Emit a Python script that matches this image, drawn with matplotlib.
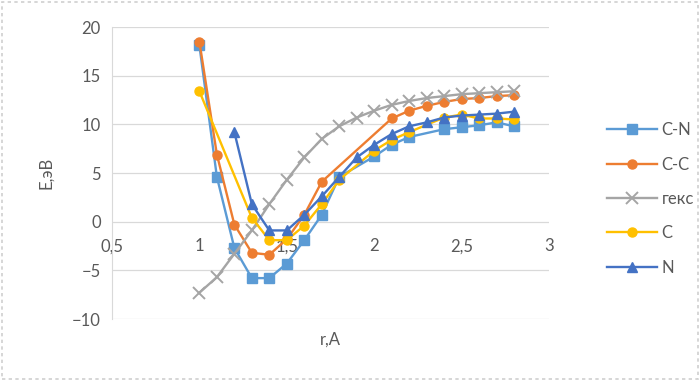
import matplotlib.pyplot as plt
import matplotlib.patches as patches
from matplotlib.ticker import FuncFormatter

# series data
x_cn = [1.0, 1.1, 1.2, 1.3, 1.4, 1.5, 1.6, 1.7, 1.8, 2.0, 2.1, 2.2, 2.4, 2.5, 2.6, 2.7, 2.8]
y_cn = [18.1, 4.6, -2.7, -5.8, -5.8, -4.3, -1.9, 0.7, 4.6, 6.7, 7.9, 8.7, 9.5, 9.7, 9.9, 10.2, 9.8]

x_cc = [1.0, 1.1, 1.2, 1.3, 1.4, 1.5, 1.6, 1.7, 2.1, 2.2, 2.3, 2.4, 2.5, 2.6, 2.7, 2.8]
y_cc = [18.5, 6.9, -0.3, -3.2, -3.4, -1.8, 0.7, 4.1, 10.6, 11.4, 11.9, 12.3, 12.6, 12.7, 12.9, 13.0]

x_hex = [1.0, 1.1, 1.2, 1.3, 1.4, 1.5, 1.6, 1.7, 1.8, 1.9, 2.0, 2.1, 2.2, 2.3, 2.4, 2.5, 2.6, 2.7, 2.8]
y_hex = [-7.3, -5.7, -3.3, -0.9, 1.8, 4.3, 6.6, 8.5, 9.8, 10.7, 11.4, 12.0, 12.4, 12.7, 12.9, 13.1, 13.2, 13.3, 13.4]

x_c = [1.0, 1.3, 1.4, 1.5, 1.6, 1.7, 1.8, 2.0, 2.1, 2.2, 2.4, 2.5, 2.6, 2.7, 2.8]
y_c = [13.4, 0.4, -1.9, -1.9, -0.4, 1.8, 4.3, 7.3, 8.4, 9.2, 10.7, 11.0, 10.6, 10.6, 10.5]

x_n = [1.2, 1.3, 1.4, 1.5, 1.6, 1.7, 1.8, 1.9, 2.0, 2.1, 2.2, 2.3, 2.4, 2.5, 2.6, 2.7, 2.8]
y_n = [9.2, 1.8, -0.9, -0.9, 0.7, 2.6, 4.6, 6.6, 7.9, 9.0, 9.8, 10.2, 10.7, 10.9, 11.0, 11.1, 11.3]

labels = ["C-N", "C-C", "гекс", "C", "N"]

plt.rcParams['font.family'] = ['Lato', 'DejaVu Sans']
txt = '#595959'
fs = 12

fig = plt.figure(figsize=(7.0, 3.81), dpi=100)
ax = fig.add_axes([112 / 700, 1 - 319 / 381, (549 - 112) / 700, (319 - 27) / 381])

lw = 1.7
ax.plot(x_cn, y_cn, color='#5B9BD5', lw=lw, marker='s', ms=7, label=labels[0], zorder=3)
ax.plot(x_cc, y_cc, color='#ED7D31', lw=lw, marker='o', ms=6.5, label=labels[1], zorder=4)
ax.plot(x_hex, y_hex, color='#A5A5A5', lw=lw, marker='x', ms=8, mew=1.4, label=labels[2], zorder=5)
ax.plot(x_c, y_c, color='#FFC000', lw=lw, marker='o', ms=6.5, label=labels[3], zorder=6)
ax.plot(x_n, y_n, color='#4472C4', lw=lw, marker='^', ms=7.5, label=labels[4], zorder=7)

ax.set_xlim(0.5, 3)
ax.set_ylim(-10, 20)
ax.set_yticks(range(-10, 21, 5))
ax.set_xticks([0.5, 1, 1.5, 2, 2.5, 3])
ax.xaxis.set_major_formatter(FuncFormatter(lambda v, p: ('%g' % v).replace('.', ',')))

ax.grid(axis='y', color='#D9D9D9', lw=0.9)
ax.set_axisbelow(True)
for s in ['top', 'right']:
    ax.spines[s].set_visible(False)
ax.spines['left'].set_color('#D9D9D9')
ax.spines['bottom'].set_position(('data', 0))
ax.spines['bottom'].set_visible(False)
ax.tick_params(axis='both', length=0, colors=txt, labelsize=fs)
ax.tick_params(axis='x', pad=12)
ax.tick_params(axis='y', pad=8)

ax.set_ylabel("E,эВ", color=txt, fontsize=fs, labelpad=13)
fig.text(330 / 700, 1 - 340 / 381, "r,A", color=txt, fontsize=fs, ha='center', va='center')

ax.legend(loc='center left', bbox_to_anchor=(600 / 700, 1 - 199 / 381), bbox_transform=fig.transFigure,
          frameon=False, fontsize=fs, labelcolor=txt, labelspacing=1.1, handlelength=3.0,
          handletextpad=0.3, borderaxespad=0)

# dashed chart frame
fig.patches.append(patches.Rectangle((0.003, 0.004), 0.994, 0.992, transform=fig.transFigure,
                                     fill=False, ec='#D0D0D0', lw=1.2, ls=(0, (2, 2))))

fig.savefig("out.png", dpi=100)
